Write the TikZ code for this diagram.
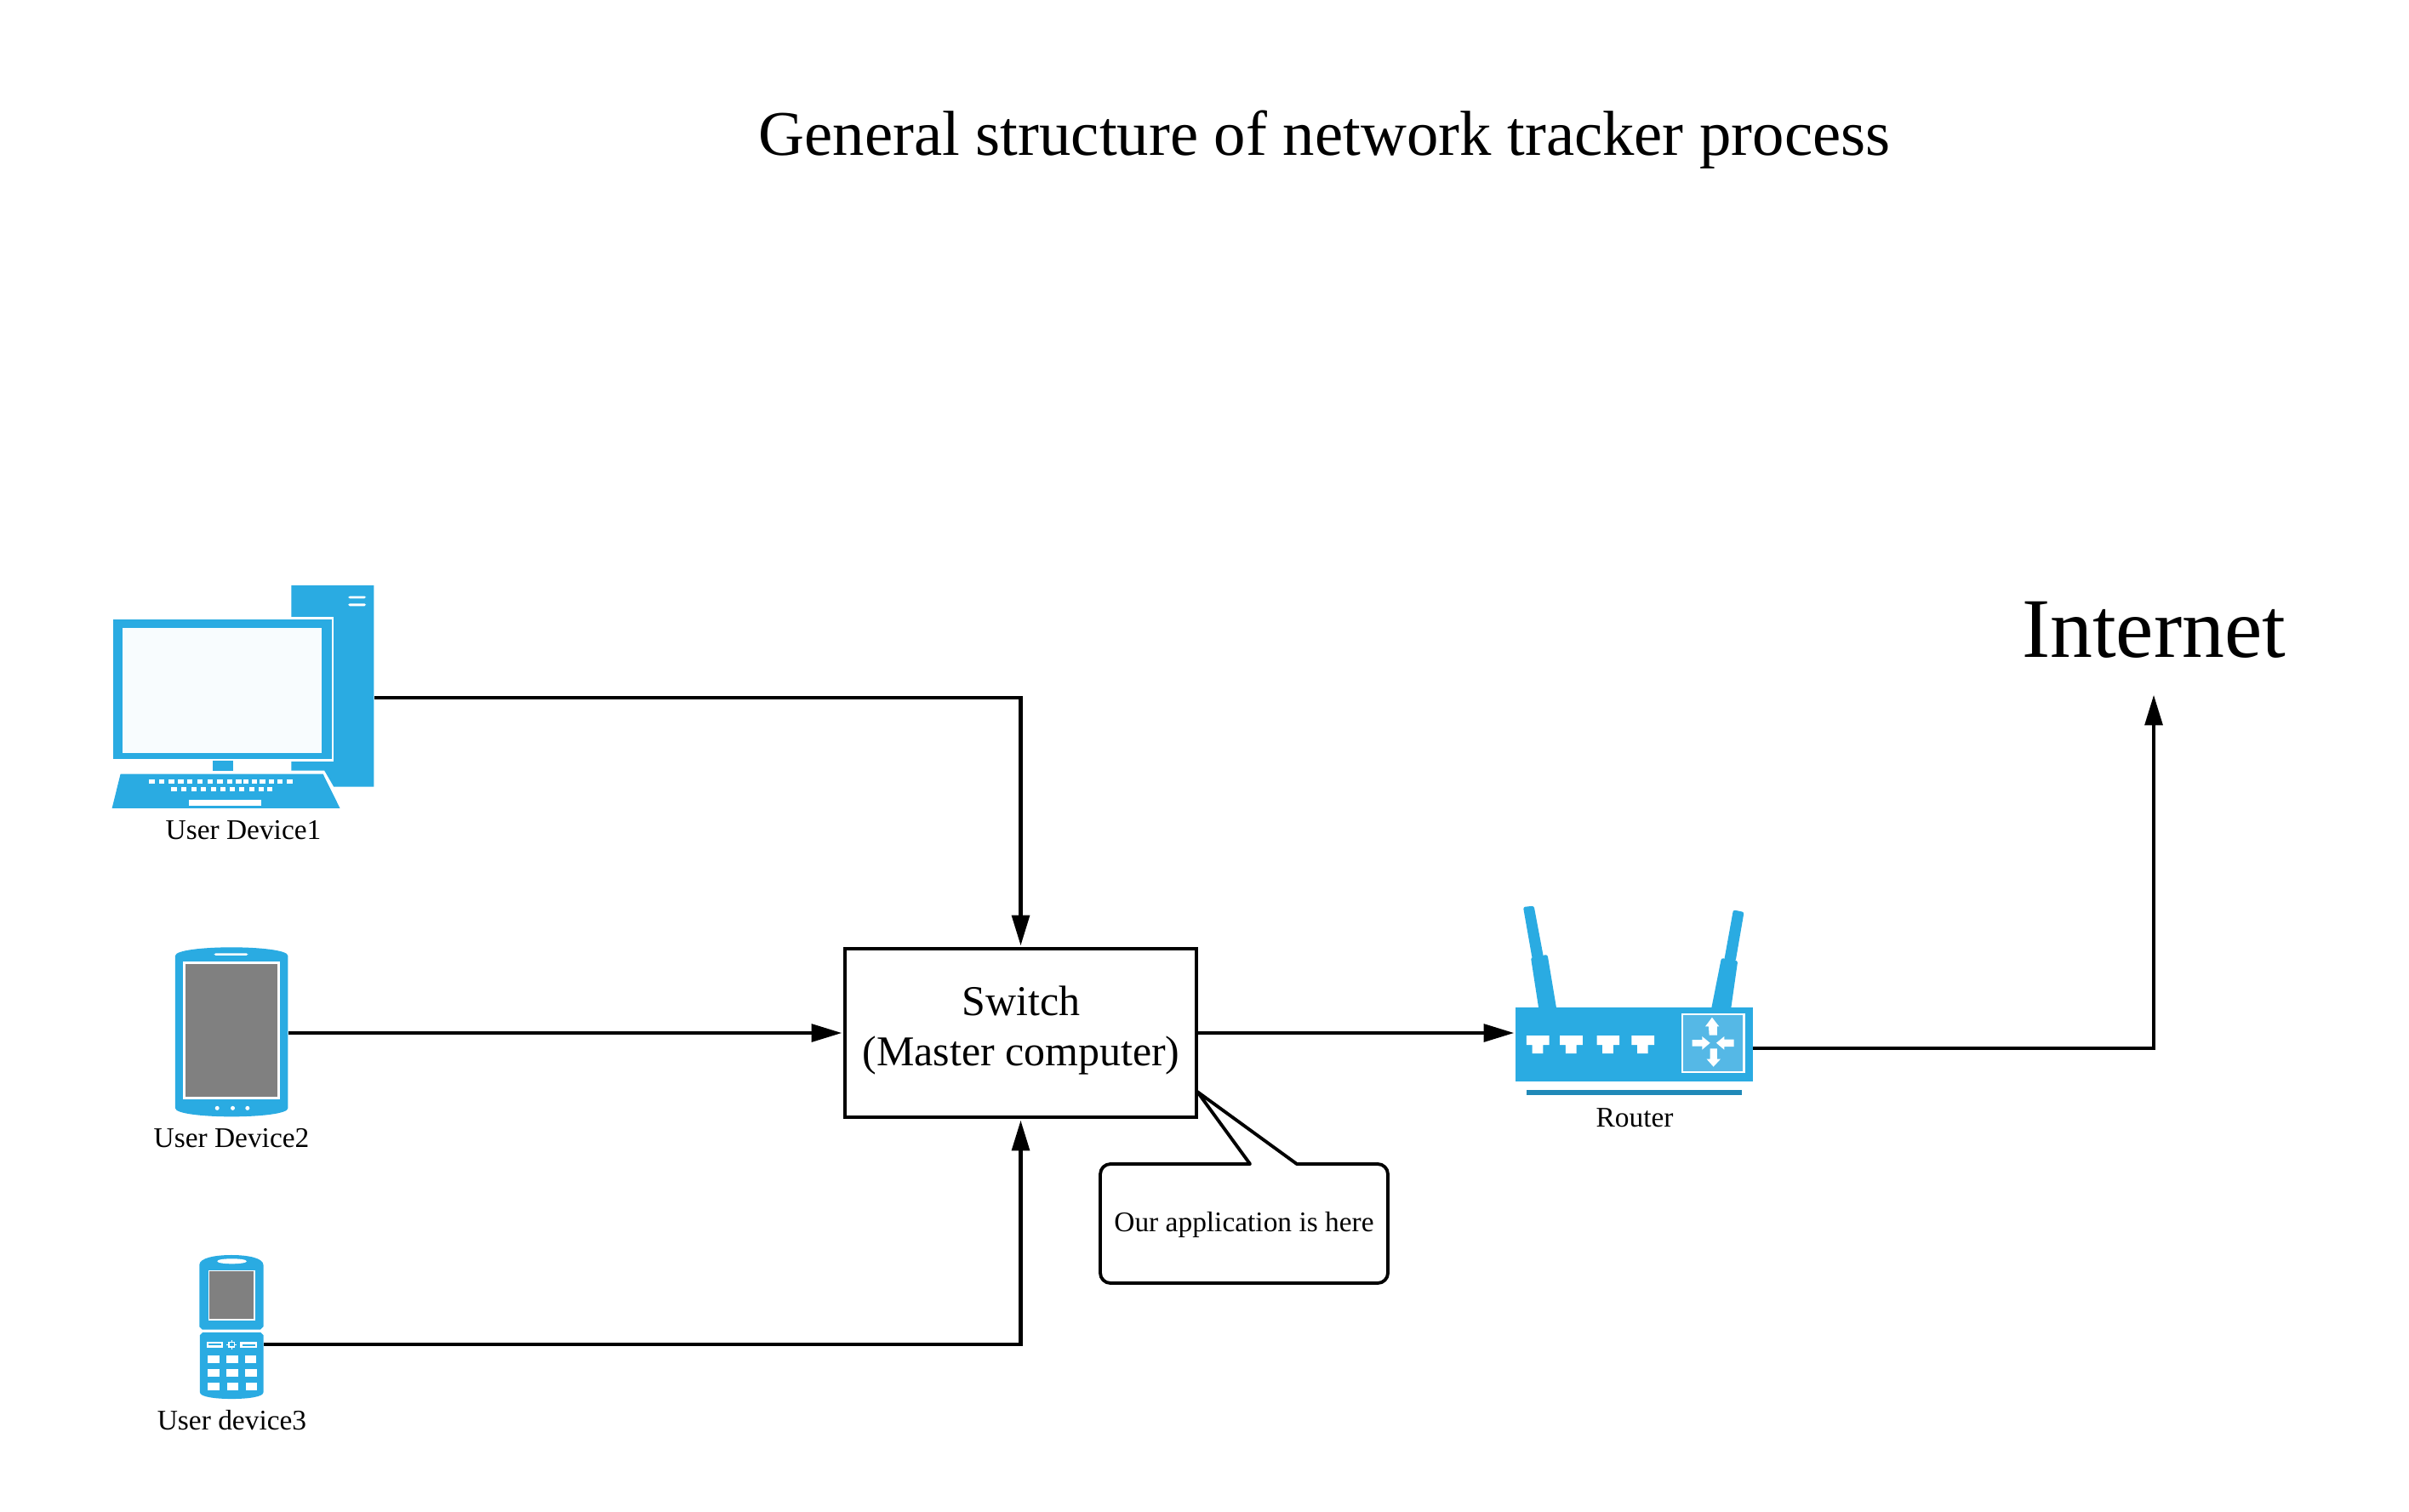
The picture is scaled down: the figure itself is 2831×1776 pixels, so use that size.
\documentclass[tikz,border=0pt]{standalone}
\usepackage{fontspec}
\setmainfont{Liberation Serif}
\usetikzlibrary{arrows.meta,calc}
\definecolor{iconblue}{HTML}{2AABE2}
\definecolor{icondark}{HTML}{2089B8}
\definecolor{iconlight}{HTML}{55B8E6}
\definecolor{screenwhite}{HTML}{F8FCFE}
\definecolor{screengray}{HTML}{808080}
\newcommand{\setpx}[1]{\fontsize{#1}{1.2\dimexpr#1\relax}\selectfont}
\tikzset{
  zoomed/.style={x=0.0033333cm,y=-0.0033333cm},
  caption/.style={inner sep=0pt,align=center,font=\setpx{9.5pt}},
  wire/.style={draw=black,line width=1.2pt,-{Triangle[length=10pt,width=6.2pt,line width=0pt]},shorten >=0.6pt},
  wfill/.style={fill=white,draw=none},
  iconbox/.style={inner sep=0pt,outer sep=0pt},
}
\begin{document}
\begin{tikzpicture}[x=0.01cm,y=-0.01cm]
\useasboundingbox (0,0) rectangle (2831,1776);
\fill[white] (0,0) rectangle (2831,1776);

% ---- Title
\node[inner sep=0pt,font=\setpx{21.25pt}] (title) at (1556.5,164) {General structure of network tracker process};

% ---- Invisible bounding nodes of the icons
\node[iconbox,minimum width=3.07cm,minimum height=2.62cm] (pc) at (286.5,820) {};
\node[iconbox,minimum width=1.33cm,minimum height=2.00cm] (tablet) at (272.5,1214) {};
\node[iconbox,minimum width=0.76cm,minimum height=1.69cm] (mobile) at (272,1559.5) {};
\node[iconbox,minimum width=2.79cm,minimum height=0.87cm] (router) at (1920.5,1227.5) {};

% ---- Desktop computer
\begin{scope}[shift={(110,670)},zoomed]
  \fill[iconblue] (698,54) -- (990,54) -- (990,765) -- (848,765) -- (815,708) -- (698,708) -- cycle;
  \fill[wfill,rounded corners=0.5pt] (899,92) rectangle (962,100);
  \fill[wfill,rounded corners=0.5pt] (899,118) rectangle (962,127);
  \fill[white] (62,166) rectangle (846,675);
  \fill[iconblue] (68,174) rectangle (840,666);
  \fill[screenwhite] (102,204) rectangle (805,645);
  \fill[iconblue] (420,674) rectangle (492,710);
  \fill[iconblue] (95,720) -- (810,720) -- (870,841) -- (65,841) -- cycle;
  \foreach \k in {195,230,265,298,330,366,402,436,471,502,528,558,586,618,648,682}
    \fill[white] (\k,740) rectangle ++(20,15);
  \foreach \k in {273,309,345,378,414,447,480,513,549,582,612}
    \fill[white] (\k,767) rectangle ++(20,15);
  \fill[white] (338,810) rectangle (593,833);
\end{scope}

% ---- Smartphone
\begin{scope}[shift={(180,1100)},zoomed]
  \fill[iconblue] (78,70) .. controls (78,50) and (180,40) .. (277,40) .. controls (374,40) and (476,50) .. (476,70)
     -- (476,608) .. controls (476,628) and (374,638) .. (277,638) .. controls (180,638) and (78,628) .. (78,608) -- cycle;
  \fill[white] (105,90) rectangle (447,576);
  \fill[screengray] (114,98) rectangle (438,567);
  \fill[white,rounded corners=0.5pt] (215,61) rectangle (335,69);
  \foreach \k in {226,281,333} \fill[white] (\k,608) circle[radius=7.5];
\end{scope}

% ---- Flip phone
\begin{scope}[shift={(210,1460)},zoomed]
  \fill[iconblue] (73,80) .. controls (73,55) and (130,45) .. (186,45) .. controls (242,45) and (299,55) .. (299,80)
     -- (299,298) -- (289,308) -- (83,308) -- (73,298) -- cycle;
  \fill[white] (136,67) .. controls (136,55) and (240,55) .. (240,67) .. controls (240,79) and (136,79) .. (136,67) -- cycle;
  \fill[white] (105,98) rectangle (270,275);
  \fill[screengray] (108,102) rectangle (265,270);
  \fill[iconblue] (75,328) -- (85,318) -- (289,318) -- (299,328) -- (299,530) .. controls (299,545) and (250,553) .. (187,553)
     .. controls (124,553) and (75,545) .. (75,530) -- cycle;
  \fill[white] (99,351) rectangle (156,372);
  \fill[iconblue] (105,359) rectangle (150,365);
  \fill[white] (216,353) rectangle (276,372);
  \fill[iconblue] (224,360) rectangle (270,366);
  \fill[white] (175,351) rectangle (199,373);
  \fill[white] (168,360) rectangle (204,364);
  \fill[white] (185,346) rectangle (189,378);
  \fill[iconblue] (180,356) rectangle (194,368);
  \foreach \kx/\ky/\kw in {102/400/42,168/400/42,234/400/39,
                           102/447/42,168/447/42,234/447/42,
                           102/495/42,171/495/39,237/495/39}
    \fill[white] (\kx,\ky) rectangle ++(\kw,27);
\end{scope}

% ---- Router
\begin{scope}[shift={(1760,1050)},zoomed]
  % antennas
  \fill[iconblue,rounded corners=0.7pt] (90,48) -- (128,44) -- (162,225) -- (122,230) -- cycle;
  \fill[iconblue,rounded corners=0.7pt] (117,226) -- (176,216) -- (210,420) -- (147,420) -- cycle;
  \fill[iconblue,rounded corners=0.7pt] (832,58) -- (870,66) -- (840,240) -- (800,235) -- cycle;
  \fill[iconblue,rounded corners=0.7pt] (790,228) -- (848,238) -- (822,420) -- (752,420) -- cycle;
  % body
  \fill[iconblue] (63,402) rectangle (901,663);
  \fill[icondark] (102,693) rectangle (862,713);
  % ports
  \foreach \p in {102,220,350,473}
    \fill[white] (\p,502) -- ++(80,0) -- ++(0,33) -- ++(-22,0) -- ++(0,30) -- ++(-38,0) -- ++(0,-30) -- ++(-20,0) -- cycle;
  % panel
  \fill[white] (648,423) rectangle (873,635);
  \fill[iconlight] (655,431) rectangle (866,627);
  % four arrows
  \fill[white] (757,438) -- (782,470) -- (775,470) -- (775,501) -- (747,501) -- (745,470) -- (733,470) -- cycle;
  \fill[white] (762,612) -- (787,585) -- (775,585) -- (775,548) -- (750,548) -- (750,585) -- (738,585) -- cycle;
  \fill[white] (750,528) -- (722,505) -- (722,517) -- (687,517) -- (687,540) -- (722,540) -- (722,552) -- cycle;
  \fill[white] (772,528) -- (800,505) -- (800,516) -- (834,516) -- (834,541) -- (800,541) -- (800,552) -- cycle;
\end{scope}

% ---- Switch box
\node[draw=black,line width=1.1pt,fill=white,inner sep=0pt,minimum width=4.13cm,minimum height=1.98cm] (switch) at (1199.5,1214) {};
\node[caption,font=\setpx{14.2pt}] (swtxt1) at (1200,1176) {Switch};
\node[caption,font=\setpx{14.2pt}] (swtxt2) at (1200,1240) {(Master computer)};

% ---- Speech callout
\draw[black,line width=1.1pt,fill=white,line join=round]
  (1407,1283) -- (1469,1368) -- (1305,1368) to[out=180,in=90] (1293,1380)
  -- (1293,1496) to[out=-90,in=180] (1305,1508) -- (1619,1508)
  to[out=0,in=-90] (1631,1496) -- (1631,1380)
  to[out=90,in=0] (1619,1368) -- (1524,1368) -- cycle;
\node[caption] (note) at (1462,1439) {Our application is here};

% ---- Captions
\node[caption] (pclabel) at (286,976) {User Device1};
\node[caption] (tabletlabel) at (272,1338) {User Device2};
\node[caption] (mobilelabel) at (272.5,1669) {User device3};
\node[caption] (routerlabel) at (1921,1314) {Router};

% ---- Internet
\node[iconbox,font=\setpx{28.35pt},minimum height=1.50cm] (internet) at (2531,740) {Internet};

% ---- Connectors
\draw[wire] (pc.east) -| (switch.north);
\draw[wire] (tablet.east) -- (switch.west);
\draw[wire] ($(mobile.east)+(0,20.5)$) -| (switch.south);
\draw[wire] (switch.east) -- (switch.east -| router.west);
\draw[wire] ($(router.east)+(0,4.5)$) -| (internet.south);
\end{tikzpicture}
\end{document}
